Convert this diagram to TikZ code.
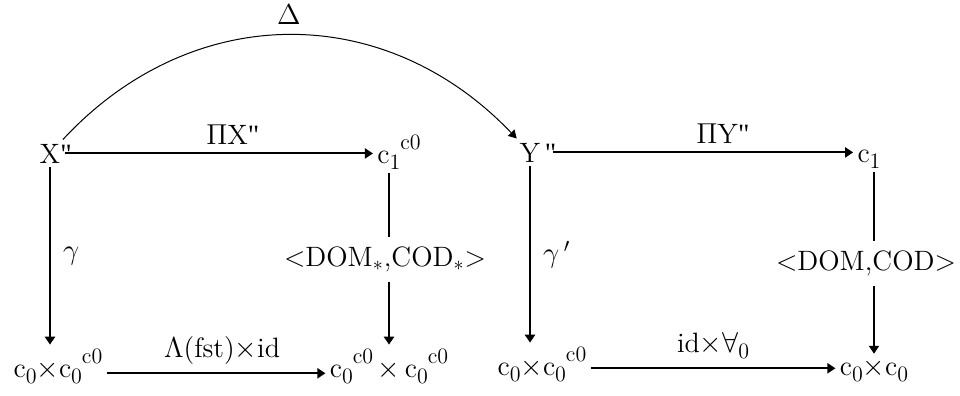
\documentclass[tikz,border=0pt]{standalone}
\usepackage{amsmath}
\usepackage{fontspec}
\usepackage{xcolor}
\usepackage{tikz}
\usetikzlibrary{arrows.meta,positioning}
\newfontfamily\tickfont{Liberation Serif}
\newcommand{\dq}{{\tickfont\symbol{34}}}
\newcommand{\lo}[1]{\raisebox{-0.5ex}{\fontsize{11}{12}\selectfont#1}}
\newcommand{\hi}[1]{\raisebox{1.1ex}{\fontsize{11}{12}\selectfont#1}}

\begin{document}
\begin{tikzpicture}[
  x=0.5pt, y=-0.5pt,
  obj/.style={font=\fontsize{14}{16}\selectfont, inner sep=2pt, anchor=base},
  lbl/.style={font=\fontsize{14}{16}\selectfont, inner sep=2pt},
  gap/.style={lbl, fill=white, inner ysep=5pt},
  arr/.style={-{Triangle[length=4pt,width=5pt]}, line width=1pt},
  bow/.style={-{Triangle[length=4pt,width=4.5pt]}, line width=0.5pt}
]
  \useasboundingbox (0,0) rectangle (960,396);
  % Top row
  \node[obj] (X) at (50,163) {X\rlap{\dq}};
  \node[obj] (cc) at (399,163) {c\lo{1}\hi{c0}};
  \node[obj] (Y) at (530,162) {Y\rlap{\,\dq}};
  \node[obj] (c1) at (869,162) {c\lo{1}};
  % Bottom row
  \node[obj] (A) at (58,377) {c\lo{0}$\times$c\lo{0}\hi{c0}};
  \node[obj] (B) at (389,377) {c\lo{0}\hi{c0}\,$\times$\,c\lo{0}\hi{c0}};
  \node[obj] (D) at (542,375) {c\lo{0}$\times$c\lo{0}\hi{c0}};
  \node[obj] (E) at (874,375) {c\lo{0}$\times$c\lo{0}};
  % Left square
  \draw[arr] (X) -- (X -| cc.west) node[lbl, midway, above=2pt, xshift=7pt] {$\Pi$X\dq};
  \draw[arr] (X) -- (X |- A.north) node[lbl, midway, right=4pt] {$\gamma$};
  \draw[arr] (cc.south -| B) -- node[gap, xshift=-2pt] {<DOM$_*$,COD$_*$>} (B);
  \draw[arr] ([yshift=-3.5pt]A.east) -- ([yshift=-3.5pt]A.east -| B.west)
    node[lbl, midway, above=2pt, xshift=3pt] {$\Lambda$(fst)$\times$id};
  % Right square
  \draw[arr] ([xshift=4pt]Y.east) -- (Y -| c1.west) node[lbl, midway, above=2pt, xshift=10pt] {$\Pi$Y\dq};
  \draw[arr] (Y) -- (Y |- D.north) node[lbl, midway, right=4pt] {$\gamma\,'$};
  \draw[arr] (c1.south -| E) -- node[gap, xshift=-4pt] {<DOM,COD>} (E);
  \draw[arr] ([yshift=-2pt]D.east) -- ([yshift=-2pt]D.east -| E.west)
    node[lbl, midway, above=2pt] {id$\times\forall$\lo{0}};
  % Diagonal
  \draw[bow] (X) .. controls +(142,-153) and +(-145,-152) .. (Y)
    node[lbl, midway, above=3pt] {$\Delta$};
\end{tikzpicture}
\end{document}
